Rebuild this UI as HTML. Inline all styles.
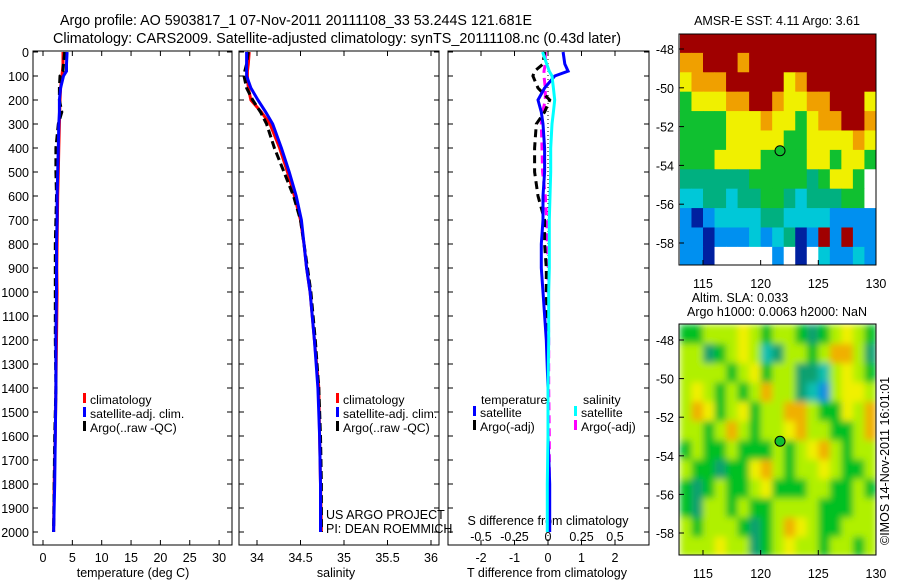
<!DOCTYPE html>
<html><head><meta charset="utf-8"><style>
body{margin:0;background:#fff}
svg{display:block;font-family:"Liberation Sans",sans-serif}
text{font-size:13px;fill:#000}
</style></head><body>
<svg id="s" width="900" height="580" viewBox="0 0 900 580">
<defs>
<clipPath id="c1"><rect x="33" y="51" width="199" height="494"/></clipPath>
<clipPath id="c2"><rect x="239" y="51" width="200" height="494"/></clipPath>
<clipPath id="c3"><rect x="448" y="51" width="201" height="494"/></clipPath>
<clipPath id="m1"><rect x="679" y="34" width="197" height="231"/></clipPath>
<clipPath id="m2"><rect x="679" y="324" width="197" height="231"/></clipPath>
<filter id="blur"><feGaussianBlur stdDeviation="3.5"/></filter>
</defs>
<text x="60" y="25" textLength="472" lengthAdjust="spacingAndGlyphs" style="font-size:14.4px">Argo profile: AO 5903817_1 07-Nov-2011 20111108_33 53.244S 121.681E</text>
<text x="53" y="43" textLength="568" lengthAdjust="spacingAndGlyphs" style="font-size:14.4px">Climatology: CARS2009. Satellite-adjusted climatology: synTS_20111108.nc (0.43d later)</text>
<text x="777" y="25" text-anchor="middle" style="font-size:12.5px">AMSR-E SST: 4.11 Argo: 3.61</text>
<text x="740" y="302" text-anchor="middle" style="font-size:12.5px">Altim. SLA: 0.033</text>
<text x="777" y="316" text-anchor="middle" style="font-size:12.5px">Argo h1000: 0.0063 h2000: NaN</text>
<text transform="translate(889,545) rotate(-90)" style="font-size:12.5px">©IMOS 14-Nov-2011 16:01:01</text>
<g id="g"></g>
</svg>
<script>
// ---- data ----
const depthTicks=[0,100,200,300,400,500,600,700,800,900,1000,1100,1200,1300,1400,1500,1600,1700,1800,1900,2000];
const tempTicks=[0,5,10,15,20,25,30];
const salTicks=[34,34.5,35,35.5,36];
const salTickLabels=["34","34.5","35","35.5","36"];
const tdiffTicks=[-2,-1,0,1,2];
const sdiffTicks=[-0.5,-0.25,0,0.25,0.5];
const profDepths=[0,50,80,100,150,200,250,300,400,500,600,700,800,900,1000,1200,1400,1600,1800,2000];
const tempClim=[3.4,3.4,3.3,3.2,3.0,2.9,2.85,2.8,2.7,2.6,2.5,2.45,2.4,2.35,2.4,2.3,2.2,2.1,1.9,1.8];
const tempSat=[4.1,4.0,4.0,3.5,3.0,2.8,2.8,2.7,2.6,2.5,2.4,2.4,2.3,2.3,2.3,2.2,2.2,2.1,2.0,1.8];
const tempArgo=[3.7,3.5,3.4,2.9,2.8,2.8,3.2,2.6,2.2,2.2,2.3,2.2,2.1,2.1,2.1,2.1,2.2,2.0,1.9,1.8];
const salClim=[33.91,33.90,33.89,33.89,33.90,33.93,34.05,34.15,34.26,34.35,34.43,34.50,34.54,34.57,34.61,34.66,34.71,34.72,34.73,34.74];
const salSat=[33.88,33.88,33.88,33.88,33.93,34.01,34.10,34.18,34.28,34.37,34.45,34.51,34.54,34.57,34.61,34.66,34.70,34.72,34.73,34.73];
const salArgo=[33.90,33.88,33.86,33.85,33.88,33.95,34.04,34.11,34.20,34.31,34.42,34.50,34.54,34.58,34.62,34.67,34.71,34.73,34.74,34.74];
const tdSat=[0.45,0.5,0.6,0.2,-0.1,-0.3,-0.2,-0.15,-0.1,-0.1,-0.15,-0.15,-0.2,-0.2,-0.15,-0.05,0.0,0.0,0.05,0.05];
const tdArgo=[-0.1,-0.15,-0.4,-0.45,-0.3,0.05,-0.1,-0.35,-0.4,-0.4,-0.3,-0.1,-0.1,-0.05,-0.05,0,0,0,0,0];
const sdSat=[-0.04,-0.01,0.01,0.03,0.04,0.05,0.04,0.03,0.02,0.02,0.015,0.01,0.01,0.01,0.005,0.005,0,0,-0.005,-0.005];
const sdArgo=[-0.02,-0.02,-0.03,-0.03,-0.02,-0.02,-0.04,-0.05,-0.045,-0.04,-0.02,-0.01,-0.005,0,0,0.005,0.005,0.01,0.01,0.01];
const lonTicks=[115,120,125,130];
const latTicks=[-48,-50,-52,-54,-56,-58];
const sstRows=["RRRRRRRRRRRRRRRRR","OORRRORRRRRRRRRRR","YOOORRRRRYORRRRRR","GYYYOORROYYOORRRY","GGGGYYYOYYGYOORRO","GGGGYYYYYGGYYYYOY","GGGYYYYGGGGYYGYYG","TTTTTTGGGGGTGYYGW","CCTTCTTGGTCTTTGGW","BNBCCCCTTCCCCBBBB","BBNBBBCBCTNBRBRBB","BBNWWWWWBWNWCBBCB"];
const slaRows=["GGLLLYLGLLGTGLYLG","LLTGLYLCTLLGLOOLT","LLLLGLYGLLTTCLYLG","LYLGLGLOLLTCBLYYL","LOYGLYGLLOOLGGYLO","LLGLOLGLLYOLLGGLO","GLGGLGGGLGLYOLGLL","LGGTGGYOLGLLYLGGL","GTGLGGLYGGGLLGGLG","GTLLGLGGLLLLGGGLL","LGLLLGTGLOYLGGLLL","LLLYLLTGLYLLGLLGL"];
const argoLon=121.681, argoLat=-53.244;
// ---- scales ----
const yD=d=>52+d*0.24;
const xT=t=>43+t*5.87;
const xS=s=>257+(s-34)*87;
const xTd=t=>548+t*33.5;
const xSd=s=>548+s*134;
const mapX=l=>703+(l-115)*11.53;
const latY1=a=>49+(-48-a)*19.4;
const latY2=a=>340+(-48-a)*19.3;
const NS="http://www.w3.org/2000/svg";
const G=document.getElementById('g');
function el(t,a,p){const e=document.createElementNS(NS,t);for(const k in a)e.setAttribute(k,a[k]);(p||G).appendChild(e);return e;}
function txt(x,y,s,anchor,size,p){const e=el('text',{x:x,y:y,'text-anchor':anchor||'start'},p);if(size)e.style.fontSize=size+'px';e.textContent=s;return e;}
function line(xs,color,w,dash,clip,name){
  const pts=profDepths.map((d,i)=>xs(i).toFixed(1)+','+yD(d).toFixed(1)).join(' ');
  const e=el('polyline',{points:pts,fill:'none',stroke:color,'stroke-width':w,'clip-path':'url(#'+clip+')'});
  if(dash)e.setAttribute('stroke-dasharray',dash);
  
  
}
function frame(x0,x1,name){
  const r=el('rect',{x:x0,y:51,width:x1-x0,height:494,fill:'none',stroke:'#000','stroke-width':1});
  
  
  depthTicks.forEach(d=>{el('line',{x1:x0,x2:x0+5,y1:yD(d),y2:yD(d),stroke:'#000'});el('line',{x1:x1,x2:x1-5,y1:yD(d),y2:yD(d),stroke:'#000'});});
}
// panel 1
frame(33,232,'temperature-panel');
depthTicks.forEach(d=>{const t=txt(29,yD(d)+5,String(d),'end',12.5);});
tempTicks.forEach(v=>{el('line',{x1:xT(v),x2:xT(v),y1:545,y2:540,stroke:'#000'});el('line',{x1:xT(v),x2:xT(v),y1:51,y2:56,stroke:'#000'});const t=txt(xT(v),562,String(v),'middle',12.5);});
const xl1=txt(133,577,'temperature (deg C)','middle',12.5);
line(i=>xT(tempClim[i]),'#f00',3,null,'c1','temp-climatology-line');
line(i=>xT(tempArgo[i]),'#000',3,'8,4','c1','temp-argo-line');
line(i=>xT(tempSat[i]),'#00f',3,null,'c1','temp-satellite-line');
// panel 2
frame(239,439,'salinity-panel');
salTicks.forEach((v,i)=>{el('line',{x1:xS(v),x2:xS(v),y1:545,y2:540,stroke:'#000'});el('line',{x1:xS(v),x2:xS(v),y1:51,y2:56,stroke:'#000'});const t=txt(xS(v),562,salTickLabels[i],'middle',12.5);});
const xl2=txt(336,577,'salinity','middle',12.5);
line(i=>xS(salClim[i]),'#f00',3,null,'c2','sal-climatology-line');
line(i=>xS(salArgo[i]),'#000',3,'8,4','c2','sal-argo-line');
line(i=>xS(salSat[i]),'#00f',3,null,'c2','sal-satellite-line');
const pr1=txt(326,519,'US ARGO PROJECT','start',12.5);
const pr2=txt(326,533,'PI: DEAN ROEMMICH','start',12.5);
// legends panels 1 & 2
function leg(x,y,c,label,name){el('rect',{x:x,y:y-11,width:3,height:10,fill:c});const t=txt(x+7,y,label,'start',12.3);}
leg(83,404,'#f00','climatology','legend-climatology');
leg(83,418,'#00f','satellite-adj. clim.','legend-satellite-adj');
leg(83,432,'#000','Argo(..raw -QC)','legend-argo');
leg(336,404,'#f00','climatology','legend-climatology-2');
leg(336,418,'#00f','satellite-adj. clim.','legend-satellite-adj-2');
leg(336,432,'#000','Argo(..raw -QC)','legend-argo-2');
// panel 3
frame(448,649,'difference-panel');
el('line',{x1:548,x2:548,y1:51,y2:545,stroke:'#000','stroke-dasharray':'1,3'});
tdiffTicks.forEach(v=>{el('line',{x1:xTd(v),x2:xTd(v),y1:545,y2:540,stroke:'#000'});el('line',{x1:xTd(v),x2:xTd(v),y1:51,y2:56,stroke:'#000'});const t=txt(xTd(v),562,String(v),'middle',12.5);});
sdiffTicks.forEach(v=>{const t=txt(xSd(v),541,String(v),'middle',12.5);});
const xl3=txt(547,577,'T difference from climatology','middle',12.5);
const xl4=txt(548,525,'S difference from climatology','middle',12.5);
line(i=>xSd(sdArgo[i]),'#f0f',3,'8,5','c3','sdiff-argo-line');
line(i=>xTd(tdArgo[i]),'#000',3,'8,5','c3','tdiff-argo-line');
line(i=>xTd(tdSat[i]),'#00f',3,null,'c3','tdiff-satellite-line');
line(i=>xSd(sdSat[i]),'#0ff',3,null,'c3','sdiff-satellite-line');
const lt=txt(481,404,'temperature','start',12.3);
const ls=txt(583,404,'salinity','start',12.3);
leg(473,417,'#00f','satellite','legend-t-satellite');
leg(473,431,'#000','Argo(-adj)','legend-t-argo');
leg(574,417,'#0ff','satellite','legend-s-satellite');
leg(574,431,'#f0f','Argo(-adj)','legend-s-argo');
// maps
const sstCol={R:'#a00000',O:'#f0a000',Y:'#f0f000',G:'#10c030',T:'#00b080',C:'#00c8d8',B:'#0090f0',N:'#0020a0',W:'#ffffff'};
const slaCol={G:'#00c020',L:'#b0f000',Y:'#f0f000',O:'#f0b000',T:'#10a070',C:'#10c0b0',B:'#1090e0'};
function map(rows,cols,latY,clip,top,name,blur){
  const g=el('g',{'clip-path':'url(#'+clip+')'});
  
  
  const inner=el('g',blur?{filter:'url(#blur)'}:{},g);
  rows.forEach((r,ri)=>{[...r].forEach((ch,ci)=>{
    const lat0=-47.2-ri, lat1=lat0-1, lon0=113+ci, lon1=lon0+1;
    const c=el('rect',{x:mapX(lon0),y:latY(lat0),width:mapX(lon1)-mapX(lon0)+0.5,height:latY(lat1)-latY(lat0)+0.5,fill:cols[ch]},inner);
    
    
  });});
  const b=el('rect',{x:679,y:top,width:197,height:231,fill:'none',stroke:'#000'});
  
  
  lonTicks.forEach(l=>{el('line',{x1:mapX(l),x2:mapX(l),y1:top+231,y2:top+226,stroke:'#000'});const t=txt(mapX(l),top+254,String(l),'middle',12.5);});
  latTicks.forEach(a=>{el('line',{x1:679,x2:684,y1:latY(a),y2:latY(a),stroke:'#000'});const t=txt(674,latY(a)+5,String(a),'end',12.5);});
  const m=el('circle',{cx:mapX(argoLon),cy:latY(argoLat),r:5,fill:'#10c030',stroke:'#000'});
  
  
}
map(sstRows,sstCol,latY1,'m1',34,'sst-map',false);
map(slaRows,slaCol,latY2,'m2',324,'sla-map',true);
</script>
</body></html>
